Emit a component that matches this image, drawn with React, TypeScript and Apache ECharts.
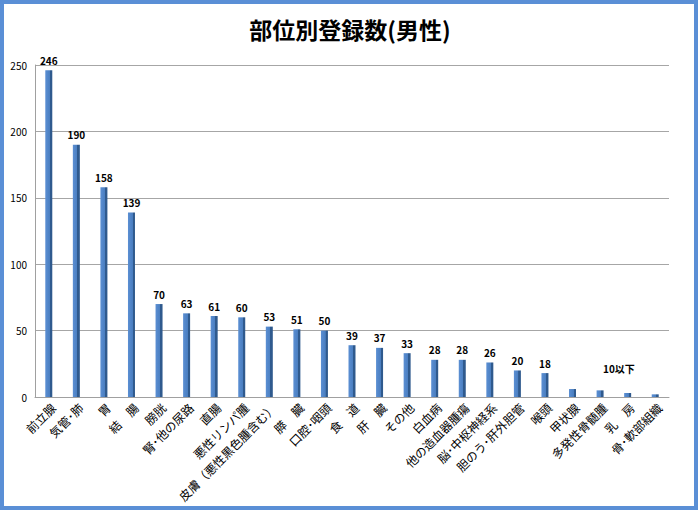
import React, { useEffect, useRef } from "react";
import * as echarts from "echarts";

const categories = [
  "前立腺", "気管･肺", "胃", "結　腸", "膀胱", "腎･他の尿路", "直腸", "悪性リンパ腫",
  "皮膚（悪性黒色腫含む）", "膵　臓", "口腔･咽頭", "食　道", "肝　臓", "その他", "白血病",
  "他の造血器腫瘍", "脳･中枢神経系", "胆のう･肝外胆管", "喉頭", "甲状腺", "多発性骨髄腫", "乳　房", "骨･軟部組織",
];
const values = [246, 190, 158, 139, 70, 63, 61, 60, 53, 51, 50, 39, 37, 33, 28, 28, 26, 20, 18, 6, 5, 3, 2];
const labelThreshold = 10;
const yTicks = [0, 50, 100, 150, 200, 250];

const FONT = "'Noto Sans CJK JP', 'Noto Sans', sans-serif";

export default function App() {
  const ref = useRef<HTMLDivElement>(null);
  useEffect(() => {
    if (!ref.current) return;
    const chart = echarts.init(ref.current, null, { renderer: "svg" });
    chart.setOption({
      animation: false,
      backgroundColor: "#ffffff",
      title: {
        text: "部位別登録数(男性)",
        left: "center",
        top: 12,
        textStyle: { fontFamily: FONT, fontSize: 23, fontWeight: "bold", color: "#000" },
      },
      grid: { left: 35, right: 31, top: 65, bottom: 114 },
      xAxis: {
        type: "category",
        data: categories,
        axisLine: { show: true, lineStyle: { color: "#a0a0a0" } },
        axisTick: { show: false },
        axisLabel: {
          interval: 0,
          rotate: 45,
          fontFamily: FONT,
          fontSize: 12,
          color: "#000",
          margin: 4,
          verticalAlign: "top",
        },
      },
      yAxis: {
        type: "value",
        min: yTicks[0],
        max: yTicks[yTicks.length - 1],
        interval: 50,
        axisLine: { show: true, lineStyle: { color: "#a0a0a0" } },
        axisTick: { show: false },
        splitLine: { show: true, lineStyle: { color: "#a6a6a6", width: 1 } },
        axisLabel: { fontFamily: FONT, fontSize: 10, color: "#000", margin: 8 },
      },
      series: [
        {
          type: "bar",
          data: values.map((v) => ({
            value: v,
            label: { show: v > labelThreshold },
          })),
          barWidth: 7,
          itemStyle: {
            color: new echarts.graphic.LinearGradient(0, 0, 1, 0, [
              { offset: 0, color: "#5b8fd3" },
              { offset: 0.65, color: "#4a7ec0" },
              { offset: 0.66, color: "#2f5a8e" },
              { offset: 1, color: "#2f5a8e" },
            ]),
          },
          label: {
            show: true,
            position: "top",
            distance: 5,
            fontFamily: FONT,
            fontSize: 10,
            fontWeight: "bold",
            color: "#000",
          },
        },
      ],
      graphic: [
        {
          type: "text",
          left: 603,
          top: 363,
          style: { text: "10以下", fontFamily: FONT, fontSize: 10, fontWeight: "bold", fill: "#000" },
        },
        {
          type: "rect",
          shape: { x: 2, y: 2, width: 694, height: 506 },
          style: { fill: "none", stroke: "#5a8fd6", lineWidth: 4 },
          silent: true,
        },
      ],
    });
    return () => chart.dispose();
  }, []);
  return (
    <div
      ref={ref}
      style={{ position: "absolute", left: 0, top: 0, width: 700, height: 511 }}
    />
  );
}
